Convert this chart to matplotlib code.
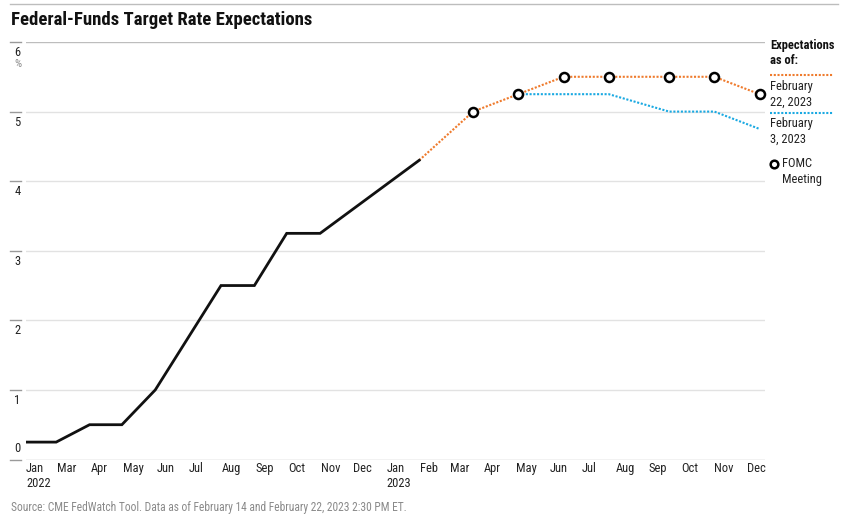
import datetime as dt
import matplotlib
matplotlib.use('Agg')
import matplotlib.pyplot as plt
import matplotlib.dates as mdates
from matplotlib.lines import Line2D
import matplotlib.transforms as mtransforms

plt.rcParams['font.family'] = ['Roboto Condensed', 'Liberation Sans Narrow',
                               'DejaVu Sans Condensed', 'Roboto', 'DejaVu Sans']

W, H = 848, 518

# realised target rate (upper bound), month-end readings
hist_dates = ['2022-01-31', '2022-02-28', '2022-03-31', '2022-04-30', '2022-05-31',
              '2022-07-31', '2022-08-31', '2022-09-30', '2022-10-31', '2023-01-31']
hist_rates = [0.25, 0.25, 0.50, 0.50, 1.00, 2.50, 2.50, 3.25, 3.25, 4.30]

# market expectations at FOMC meetings
feb22_dates = ['2023-01-31', '2023-03-22', '2023-05-03', '2023-06-14', '2023-07-26',
               '2023-09-20', '2023-11-01', '2023-12-13']
feb22_rates = [4.30, 5.00, 5.25, 5.50, 5.50, 5.50, 5.50, 5.25]

feb3_dates = ['2023-05-03', '2023-06-14', '2023-07-26', '2023-09-20', '2023-11-01',
              '2023-12-13']
feb3_rates = [5.25, 5.25, 5.25, 5.00, 5.00, 4.75]

fomc_dates = ['2023-03-22', '2023-05-03', '2023-06-14', '2023-07-26', '2023-09-20',
              '2023-11-01', '2023-12-13']
fomc_rates = [5.00, 5.25, 5.50, 5.50, 5.50, 5.50, 5.25]

tick_dates = ['2022-01-31', '2022-03-01', '2022-04-01', '2022-05-01', '2022-06-01',
              '2022-07-01', '2022-08-01', '2022-09-01', '2022-10-01', '2022-11-01',
              '2022-12-01', '2023-01-01', '2023-02-01', '2023-03-01', '2023-04-01',
              '2023-05-01', '2023-06-01', '2023-07-01', '2023-08-01', '2023-09-01',
              '2023-10-01', '2023-11-01', '2023-12-01']
tick_labels = ['Jan\n2022', 'Mar', 'Apr', 'May', 'Jun', 'Jul', 'Aug', 'Sep', 'Oct',
               'Nov', 'Dec', 'Jan\n2023', 'Feb', 'Mar', 'Apr', 'May', 'Jun', 'Jul',
               'Aug', 'Sep', 'Oct', 'Nov', 'Dec']
y_ticks = [0, 1, 2, 3, 4, 5, 6]

ORANGE = '#EF7B2D'
BLUE = '#1AA9E2'
GRID = '#E2E2E2'
DARK_GRID = '#BDBDBD'
TEXT = '#222222'


def to_num(dates):
    return mdates.date2num([dt.datetime.strptime(d, '%Y-%m-%d') for d in dates])


def fx(x):
    return x / W


def fy(y):
    return 1 - y / H


fig = plt.figure(figsize=(W / 100, H / 100), dpi=100)
ax = fig.add_axes([fx(26), fy(459.5), fx(765) - fx(26), fy(42) - fy(459.5)])

# grid
for v in y_ticks:
    col = DARK_GRID if v in (0, 6) else GRID
    ax.axhline(v, color=col, lw=1.0, zorder=1)

ax.plot(to_num(feb3_dates), feb3_rates, color=BLUE, lw=1.5, ls=(0, (1, 0.8)), zorder=2)
ax.plot(to_num(feb22_dates), feb22_rates, color=ORANGE, lw=1.5, ls=(0, (1, 0.8)), zorder=3)
ax.plot(to_num(hist_dates), hist_rates, color='#111111', lw=2.0, zorder=4,
        solid_joinstyle='miter')
ax.plot(to_num(fomc_dates), fomc_rates, ls='None', marker='o', ms=6.5, mfc='white',
        mec='black', mew=1.8, zorder=5, clip_on=False)

ax.set_ylim(0, 6)
ax.set_xlim(to_num(['2022-01-31'])[0], to_num(['2023-12-18'])[0])
for s in ax.spines.values():
    s.set_visible(False)
ax.set_yticks([])
ax.set_xticks(to_num(tick_dates))
ax.set_xticklabels(tick_labels, ha='left', fontsize=9, color=TEXT,
                   linespacing=1.2)
ax.tick_params(axis='x', length=0, pad=2)

# y labels hanging under short dashes on the left (the zero sits above its dash)
trans = mtransforms.blended_transform_factory(fig.transFigure, ax.transData)
below = mtransforms.offset_copy(trans, fig=fig, x=0, y=-3, units='points')
above = mtransforms.offset_copy(trans, fig=fig, x=0, y=3, units='points')
for v in y_ticks:
    fig.add_artist(Line2D([fx(10), fx(21)], [v, v], color='#9A9A9A', lw=1.0,
                          transform=trans))
    if v == 0:
        fig.text(fx(17.5), v, str(v), transform=above, ha='center', va='bottom',
                 fontsize=9, color=TEXT)
    else:
        fig.text(fx(17.5), v, str(v), transform=below, ha='center', va='top',
                 fontsize=9, color=TEXT)
off_pct = mtransforms.offset_copy(trans, fig=fig, x=0, y=-12, units='points')
fig.text(fx(17.5), 6, '%', transform=off_pct, ha='center', va='top',
         fontsize=8, color='#8A8A8A')

# title and frame line
fig.add_artist(Line2D([fx(10), fx(838)], [fy(4), fy(4)], color='#BDBDBD', lw=1.0))
fig.text(fx(11), fy(20), 'Federal-Funds Target Rate Expectations', fontsize=13.5,
         fontweight='bold', ha='left', va='center', color='#111111')

# legend
fig.text(fx(770), fy(39), 'Expectations\nas of:', fontsize=9, fontweight='bold',
         ha='left', va='top', color='#111111', linespacing=1.25)
fig.add_artist(Line2D([fx(770), fx(833)], [fy(75), fy(75)], color=ORANGE, lw=1.5,
                      ls=(0, (1, 0.8))))
fig.text(fx(770), fy(80), 'February\n22, 2023', fontsize=9, ha='left', va='top',
         color=TEXT, linespacing=1.25)
fig.add_artist(Line2D([fx(770), fx(833)], [fy(113), fy(113)], color=BLUE, lw=1.5,
                      ls=(0, (1, 0.8))))
fig.text(fx(770), fy(117), 'February\n3, 2023', fontsize=9, ha='left', va='top',
         color=TEXT, linespacing=1.25)
fig.add_artist(Line2D([fx(774)], [fy(164)], ls='None', marker='o', ms=5.5, mfc='white',
                      mec='black', mew=1.8))
fig.text(fx(782), fy(157), 'FOMC\nMeeting', fontsize=9, ha='left', va='top',
         color=TEXT, linespacing=1.25)

fig.text(fx(11), fy(507), 'Source: CME FedWatch Tool. Data as of February 14 and '
         'February 22, 2023 2:30 PM ET.', fontsize=8.3, ha='left', va='center',
         color='#8A8A8A')

fig.savefig('out.png', dpi=100)
